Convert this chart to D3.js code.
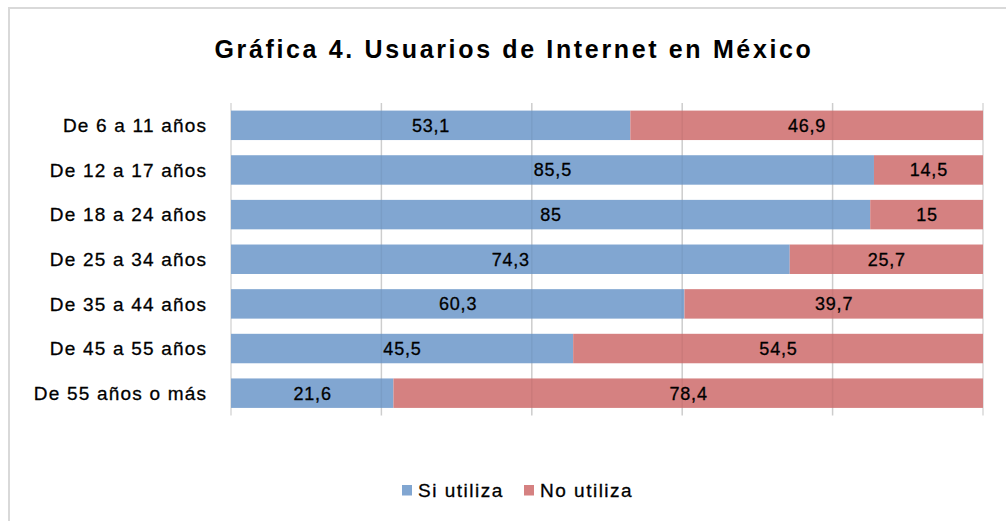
<!DOCTYPE html>
<html>
<head>
<meta charset="utf-8">
<script src="https://cdn.jsdelivr.net/npm/d3@7"></script>
<style>
  html, body { margin: 0; padding: 0; background: #fff; }
  svg { display: block; font-family: "Liberation Sans", Arial, sans-serif; }
</style>
</head>
<body>
<svg id="chart" width="1006" height="521"></svg>
<script>
const title = "Gráfica 4. Usuarios de Internet en México";
const categories = ["De 6 a 11 años", "De 12 a 17 años", "De 18 a 24 años", "De 25 a 34 años", "De 35 a 44 años", "De 45 a 55 años", "De 55 años o más"];
const siUtiliza = [53.1, 85.5, 85, 74.3, 60.3, 45.5, 21.6];
const noUtiliza = [46.9, 14.5, 15, 25.7, 39.7, 54.5, 78.4];
const seriesNames = ["Si utiliza", "No utiliza"];
const xTicks = [0, 20, 40, 60, 80, 100];

const colors = ["#81A6D1", "#D58181"];
const svg = d3.select("#chart");
const W = 1006, H = 521;

// chart border
svg.append("rect").attr("x", 9).attr("y", 8).attr("width", W + 10).attr("height", H + 10)
  .attr("fill", "#fff").attr("stroke", "#D9D9D9").attr("stroke-width", 2);

const plot = { left: 231, right: 983, top: 103, bottom: 415.5 };
const x = d3.scaleLinear().domain([0, 100]).range([plot.left, plot.right]);
const y = d3.scaleBand().domain(categories).range([plot.top, plot.bottom]).paddingInner(0.34).paddingOuter(0.17);

const rows = categories.map((c, i) => ({ cat: c, vals: [siUtiliza[i], noUtiliza[i]] }));
const stack = d3.stack().keys([0, 1]).value((d, k) => d.vals[k]);
const stacked = stack(rows);

const textStyle = (sel, size, ls) => sel
  .attr("font-size", size)
  .attr("letter-spacing", ls + "px")
  .attr("fill", "#000")
  .attr("stroke", "#000")
  .attr("stroke-width", 0.3);

// gridlines
svg.append("g").selectAll("line").data(xTicks).join("line")
  .attr("x1", d => x(d)).attr("x2", d => x(d))
  .attr("y1", plot.top).attr("y2", plot.bottom)
  .attr("stroke", "#D9D9D9").attr("stroke-width", 1.5);

// bars
const fmt = v => String(v).replace(".", ",");
const barGroups = stacked.map((layer, k) => {
  const g = svg.append("g");
  g.selectAll("rect").data(layer).join("rect")
    .attr("x", d => x(d[0]))
    .attr("y", d => y(d.data.cat))
    .attr("width", d => x(d[1]) - x(d[0]))
    .attr("height", y.bandwidth())
    .attr("fill", colors[k]);
  return g;
});

// faint gridlines showing through bars
svg.append("g").selectAll("line").data(xTicks.slice(1, -1)).join("line")
  .attr("x1", d => x(d)).attr("x2", d => x(d))
  .attr("y1", plot.top).attr("y2", plot.bottom)
  .attr("stroke", "#000").attr("stroke-opacity", 0.05).attr("stroke-width", 1.5);

stacked.forEach((layer, k) => {
  svg.append("g").selectAll("text").data(layer).join("text")
    .attr("x", d => (x(d[0]) + x(d[1])) / 2 + 0.4)
    .attr("y", d => y(d.data.cat) + y.bandwidth() / 2)
    .attr("dy", "0.36em")
    .attr("text-anchor", "middle")
    .call(textStyle, 18, 0.8)
    .text(d => fmt(d.data.vals[k]));
});

// category axis
const yAxis = d3.axisLeft(y).tickSize(0).tickPadding(23.8);
const ga = svg.append("g").attr("transform", `translate(${plot.left},0)`).call(yAxis);
ga.select(".domain").remove();
ga.selectAll("text").attr("font-family", "Liberation Sans, Arial, sans-serif")
  .call(textStyle, 19, 1.2).attr("dy", "0.36em");

// title
svg.append("text").attr("x", 514).attr("y", 58).attr("text-anchor", "middle")
  .attr("font-size", 25).attr("font-weight", "bold").attr("letter-spacing", "2.65px")
  .attr("fill", "#000").text(title);

// legend
const legend = svg.append("g");
const legendItems = [{ name: seriesNames[0], x: 402 }, { name: seriesNames[1], x: 524 }];
legendItems.forEach((it, k) => {
  legend.append("rect").attr("x", it.x).attr("y", 485).attr("width", 10).attr("height", 10.5).attr("fill", colors[k]);
  legend.append("text").attr("x", it.x + 16).attr("y", 490.5).attr("dy", "0.36em")
    .call(textStyle, 19, 1.5).text(it.name);
});
</script>
</body>
</html>
